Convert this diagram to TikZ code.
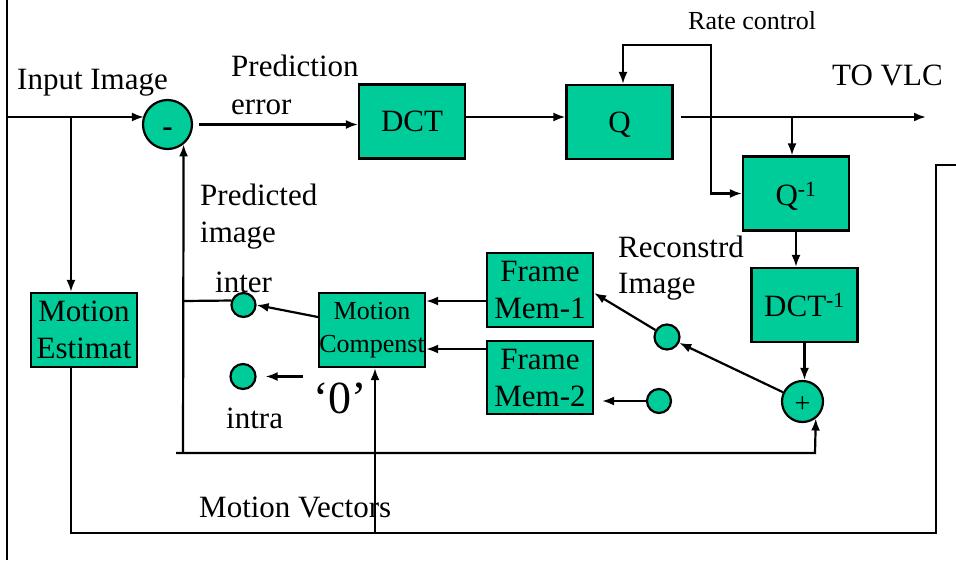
\documentclass[tikz,border=0pt]{standalone}
\usepackage{fontspec}
\setmainfont{Liberation Serif}
\usetikzlibrary{arrows.meta,calc}
\definecolor{boxgreen}{RGB}{0,204,153}
\tikzset{
  blk/.style={draw, line width=2.2pt, fill=boxgreen, minimum width=106pt, minimum height=74pt, inner sep=0pt, align=center, font=\fontsize{31}{37}\selectfont},
  sm/.style={draw, line width=2.2pt, fill=boxgreen, circle, inner sep=0pt},
  lbl/.style={anchor=base west, inner sep=0pt, font=\fontsize{31}{37}\selectfont},
  wire/.style={line width=2.2pt},
  tip/.tip={Latex[length=12pt,width=9pt]},
  arr/.style={wire, -tip},
}
\begin{document}
\begin{tikzpicture}[x=1pt,y=-1pt]
\useasboundingbox (0,0) rectangle (956,560);
% boxes
\node[blk] (dct) at (412,121.5) {DCT};
\node[blk, text depth=0pt] (q) at (619.5,122) {Q};
\node[blk, text depth=0pt] (qi) at (796,193.5) {Q\textsuperscript{-1}};
\node[blk] (idct) at (804.5,305) {DCT\textsuperscript{-1}};
\node[blk] (fm1) at (540,290) {Frame\\Mem-1};
\node[blk, minimum height=73pt] (fm2) at (540,377.5) {Frame\\Mem-2};
\node[blk, font=\fontsize{26}{33}\selectfont] (mc) at (372,330) {Motion\\Compenst};
\node[blk] (me) at (84,330) {Motion\\Estimat};
% circles
\node[sm, minimum size=49pt] (minus) at (167.5,124.5) {};
\node[font=\bfseries\fontsize{31}{37}\selectfont, inner sep=0pt] at ([yshift=-7.5pt]minus.center) {-};
\node[sm, minimum size=41pt] (plus) at (802.5,401.5) {};
\node[font=\fontsize{28}{30}\selectfont, inner sep=0pt] at ([yshift=-3pt]plus.center) {+};
\node[sm, minimum size=24pt] (inter) at (243.5,305) {};
\node[sm, minimum size=25pt] (intra) at (243,376.5) {};
\node[sm, minimum size=25pt] (c1) at (667,337) {};
\node[sm, minimum size=24pt] (c2) at (659,401) {};
% labels
\node[lbl] at (17,89) {Input Image};
\node[lbl] at (231,76) {Prediction};
\node[lbl] at (231,114) {error};
\node[lbl, font=\fontsize{26}{30}\selectfont] at (688,29) {Rate control};
\node[lbl] at (832,85) {TO VLC};
\node[lbl] at (200,205) {Predicted};
\node[lbl] at (200,242) {image};
\node[lbl] at (215,292) {inter};
\node[lbl] at (226,428) {intra};
\node[lbl, font=\fontsize{46}{50}\selectfont] (zero) at (313,413) {‘0’};
\node[lbl] at (618,257) {Reconstrd};
\node[lbl] at (618,293) {Image};
\node[lbl] at (199,517) {Motion Vectors};
% coordinates
\coordinate (bTop) at (7,0);
\coordinate (bBot) at (7,560);
\coordinate (inL) at (7,117);
\coordinate (meTop) at (71,117);
\coordinate (L) at (0,117);
\coordinate (vlc) at (926,117);
\coordinate (br) at (792,117);
\coordinate (rc1) at (623,45);
\coordinate (rc2) at (711,45);
\coordinate (pb) at (183,453);
\coordinate (pbL) at (176,453);
\coordinate (pbR) at (815,453);
\coordinate (pi) at (183,301);
\coordinate (mvB) at (375,533);
\coordinate (botL) at (71,533);
\coordinate (botR) at (936,533);
\coordinate (topR) at (936,165);
\coordinate (exitR) at (956,165);
% wires
\draw[wire] (bTop) -- (bBot);
\draw[arr] (inL) -- (inL -| minus.157);
\draw[arr] (meTop) -- (meTop |- me.north);
\draw[arr, shorten <=6pt] (minus.east) -- (dct.west |- minus.east);
\draw[arr] (dct.east |- L) -- (q.west |- L);
\draw[arr, shorten <=7pt] (q.east |- L) -- (vlc);
\draw[arr] (br) -- (br |- qi.north);
\draw[wire, tip-tip] (rc1 |- q.north) -- (rc1) -- (rc2) -- (rc2 |- qi.west) -- (qi.west);
\draw[arr] (qi.south) -- (qi.south |- idct.north);
\draw[arr] (idct.south) -- (idct.south |- plus.north);
\draw[arr] (pb) -- (minus.-51);
\draw[arr] (pbL) -- (pbR) -- (plus.-52);
\draw[wire] (pi) -- (inter.160);
\draw[arr] ([yshift=13pt]mc.west) -- (inter.east);
\draw[arr] ([yshift=-11pt]fm1.west) -- ([yshift=-11pt]fm1.west -| mc.east);
\draw[arr] ([yshift=28.5pt]fm2.west) -- ([yshift=28.5pt]fm2.west -| mc.east);
\draw[arr] (plus) -- (c1);
\draw[arr] (c1) -- ([yshift=-3pt]fm1.east);
\draw[arr, shorten >=8pt] (c2.west) -- (c2.west -| fm2.east);
\draw[arr, shorten >=9pt, shorten <=10pt] (zero.west |- intra) -- (intra.east);
\draw[wire] (me.south -| botL) -- (botL) -- (botR) -- (topR) -- (exitR);
\draw[arr] (mvB) -- (mvB |- mc.south);
\end{tikzpicture}
\end{document}
